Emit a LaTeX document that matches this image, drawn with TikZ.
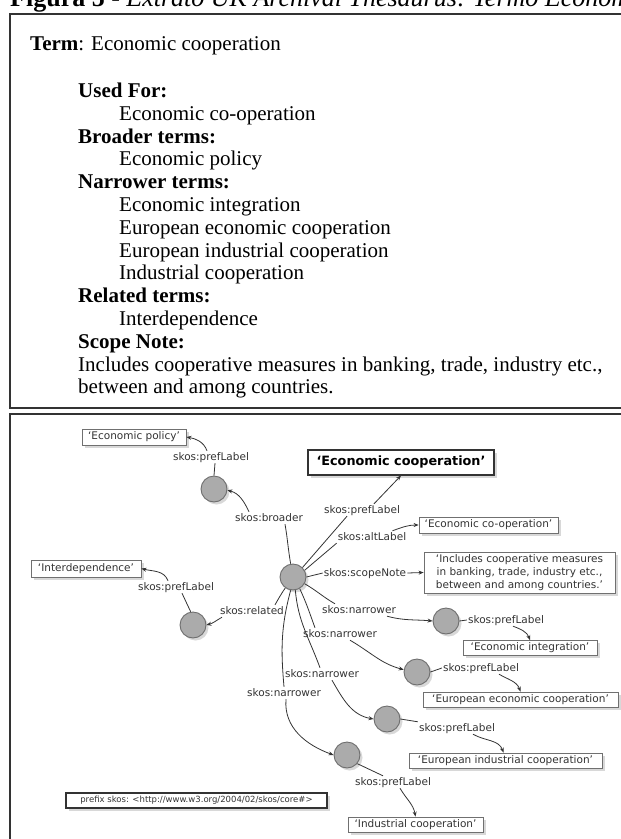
\documentclass[tikz,border=0pt]{standalone}
\usepackage{fontspec}
\setmainfont{Liberation Serif}
\newfontfamily\dvs{DejaVu Sans}
\usetikzlibrary{shadows,arrows.meta}
\definecolor{framec}{HTML}{333333}
\definecolor{ink}{HTML}{333333}
\definecolor{nodefill}{HTML}{ABABAB}
\definecolor{nodeedge}{HTML}{6E6E6E}
\definecolor{boxedge}{HTML}{707070}
\begin{document}
\begin{tikzpicture}[x=1pt,y=1pt,
  every node/.style={inner sep=0pt},
  txt/.style={anchor=base west, inner sep=0pt, font=\fontsize{21}{24}\selectfont},
  shd/.style={drop shadow={shadow xshift=2.5pt,shadow yshift=-2.5pt,fill=black!30,opacity=0.5}},
  res/.style={circle, minimum size=26pt, fill=nodefill, draw=nodeedge, line width=0.9pt, shd},
  lit/.style={draw=boxedge, line width=0.8pt, fill=white, font=\dvs\fontsize{10.5}{12}\selectfont, text=ink, minimum height=15pt, text height=8pt, text depth=2.5pt, shd},
  prop/.style={font=\dvs\fontsize{10.5}{12}\selectfont, text=ink, inner sep=1pt, text height=8pt, text depth=2pt},
  link/.style={draw=ink, line width=0.8pt},
  arr/.style={link, -{Stealth[length=5pt,width=4pt]}},
]
\useasboundingbox (0,0) rectangle (621,-839);
\clip (0,0) rectangle (621,-839);

% title
\node[anchor=base west] (title) at (10,-6.5) {\fontsize{26}{30}\selectfont\textbf{Figura 5} - \textit{Extrato UK Archival Thesaurus}: \textit{Termo Economic cooperation}};

% frames
\draw[framec, line width=1.8pt] (10,-14) rectangle (660,-408);
\draw[framec, line width=1.8pt] (10,-414) rectangle (660,-880);

% top box text
\node[txt] (t0) at (30,-50) {\textbf{Term}: Economic cooperation};
\node[txt] (t1) at (78,-97.5) {\textbf{Used For:}};
\node[txt] (t2) at (119,-120.3) {Economic co-operation};
\node[txt] (t3) at (78,-143.1) {\textbf{Broader terms:}};
\node[txt] (t4) at (119,-165.9) {Economic policy};
\node[txt] (t5) at (78,-188.7) {\textbf{Narrower terms:}};
\node[txt] (t6) at (119,-211.5) {Economic integration};
\node[txt] (t7) at (119,-234.3) {European economic cooperation};
\node[txt] (t8) at (119,-257.1) {European industrial cooperation};
\node[txt] (t9) at (119,-279.9) {Industrial cooperation};
\node[txt] (t10) at (78,-302.7) {\textbf{Related terms:}};
\node[txt] (t11) at (119,-325.5) {Interdependence};
\node[txt] (t12) at (78,-348.3) {\textbf{Scope Note:}};
\node[txt] (t13) at (78,-371.1) {Includes cooperative measures in banking, trade, industry etc.,};
\node[txt] (t14) at (78,-393.9) {between and among countries.};

% resource nodes
\node[res] (hub) at (293,-577) {};
\node[res] (nB) at (214,-489) {};
\node[res] (nR) at (193,-625) {};
\node[res] (n1) at (446,-621) {};
\node[res] (n2) at (417,-672) {};
\node[res] (n3) at (387,-719) {};
\node[res] (n4) at (347,-755) {};

% literal boxes
\node[lit, minimum width=104pt, minimum height=16pt] (bPolicy) at (134,-437) {‘Economic policy’};
\node[lit, minimum width=186pt, minimum height=25pt, line width=1.1pt, draw=framec, text=black, font=\dvs\bfseries\fontsize{12.8}{15}\selectfont, text height=9.5pt, text depth=3pt] (bCoop) at (401,-462.5) {‘Economic cooperation’};
\node[lit, minimum width=139pt, minimum height=16pt] (bCoop2) at (488.5,-525) {‘Economic co-operation’};
\node[lit, minimum width=191pt, minimum height=41pt, align=center, text height=, text depth=, font=\dvs\fontsize{10.5}{13}\selectfont] (bScope) at (519.5,-572.5) {‘Includes cooperative measures\\in banking, trade, industry etc.,\\between and among countries.’};
\node[lit, minimum width=110pt, minimum height=17pt] (bInter) at (86,-568.5) {‘Interdependence’};
\node[lit, minimum width=134pt] (bInteg) at (530,-648) {‘Economic integration’};
\node[lit, minimum width=195pt] (bEurEcon) at (520.5,-699.5) {‘European economic cooperation’};
\node[lit, minimum width=193pt] (bEurInd) at (505.5,-760.5) {‘European industrial cooperation’};
\node[lit, minimum width=135pt] (bInd) at (415.5,-824.5) {‘Industrial cooperation’};
\node[lit, minimum width=261pt, line width=1.3pt, draw=framec, font=\dvs\fontsize{8.5}{10}\selectfont, text height=6.5pt, text depth=2pt] (bPrefix) at (196.5,-800.5) {prefix skos: <http://www.w3.org/2004/02/skos/core\#>};

% property labels
\node[prop] (lBroader) at (269,-518) {skos:broader};
\node[prop] (lPrefB) at (211,-457) {skos:prefLabel};
\node[prop] (lRelated) at (252,-611) {skos:related};
\node[prop] (lPrefR) at (176,-587) {skos:prefLabel};
\node[prop] (lPref) at (362,-510) {skos:prefLabel};
\node[prop] (lAlt) at (372,-537) {skos:altLabel};
\node[prop] (lScope) at (365,-573) {skos:scopeNote};
\node[prop] (lN1) at (359,-610) {skos:narrower};
\node[prop] (lN2) at (340,-634) {skos:narrower};
\node[prop] (lN3) at (322,-674) {skos:narrower};
\node[prop] (lN4) at (284,-693) {skos:narrower};
\node[prop] (lP1) at (506,-620) {skos:prefLabel};
\node[prop] (lP2) at (481,-668) {skos:prefLabel};
\node[prop] (lP3) at (457,-728) {skos:prefLabel};
\node[prop] (lP4) at (393,-782) {skos:prefLabel};

% broader
\draw[link] (hub.100) to[out=100,in=-80] ([xshift=16pt]lBroader.south);
\draw[arr] ([xshift=-20pt]lBroader.north) to[out=115,in=-15] (nB.-5);
\draw[link] (nB.north) -- ([xshift=4pt]lPrefB.south);
\draw[arr] ([xshift=-4pt]lPrefB.north) to[out=110,in=-10] (bPolicy.east);
% related
\draw[link] (hub.235) to[out=235,in=60] ([xshift=23pt]lRelated.north);
\draw[arr] ([xshift=-30pt]lRelated.south) to[out=-150,in=15] (nR.east);
\draw[link] (nR.100) -- ([xshift=6pt]lPrefR.south);
\draw[arr] ([xshift=-8pt]lPrefR.north) to[out=110,in=-15] (bInter.east);
% prefLabel of hub
\draw[link] (hub.45) -- ([xshift=-15pt]lPref.south);
\draw[arr] ([xshift=12pt]lPref.north) -- (bCoop.south);
% altLabel
\draw[link] (hub.30) -- (lAlt.south west);
\draw[arr] ([xshift=-15pt]lAlt.north east) to[out=20,in=180] (bCoop2.west);
% scopeNote
\draw[link] (hub.east) -- (lScope.west);
\draw[arr] (lScope.east) -- (bScope.west);
% narrower 1
\draw[link] (hub.-30) to[out=-30,in=150] ([xshift=-24pt]lN1.north);
\draw[arr] ([xshift=-10pt]lN1.south east) to[out=-15,in=175] (n1.west);
\draw[link] (n1.east) -- (lP1.west);
\draw[arr] ([xshift=7pt]lP1.south) to[out=-20,in=110] (bInteg.north);
% narrower 2
\draw[link] (hub.-60) to[out=-65,in=110] ([xshift=-25pt]lN2.north);
\draw[arr] ([xshift=10pt]lN2.south) to[out=-30,in=165] (n2.170);
\draw[link] (n2.east) -- (lP2.west);
\draw[arr] ([xshift=18pt]lP2.south) to[out=-30,in=110] (bEurEcon.north);
% narrower 3
\draw[link] (hub.-80) to[out=-85,in=110] ([xshift=-2pt]lN3.north);
\draw[arr] ([xshift=10pt]lN3.south) to[out=-60,in=170] (n3.west);
\draw[link] (n3.east) -- (lP3.north west);
\draw[arr] ([xshift=16pt]lP3.south) to[out=-30,in=110] ([xshift=-2pt]bEurInd.north);
% narrower 4
\draw[link] (hub.-100) to[out=-105,in=95] (lN4.north);
\draw[arr] ([xshift=2pt]lN4.south) to[out=-95,in=160] (n4.west);
\draw[link] (n4.-40) -- ([xshift=-10pt]lP4.north);
\draw[arr] ([xshift=7pt]lP4.south) to[out=-60,in=100] (bInd.north);
\end{tikzpicture}
\end{document}
